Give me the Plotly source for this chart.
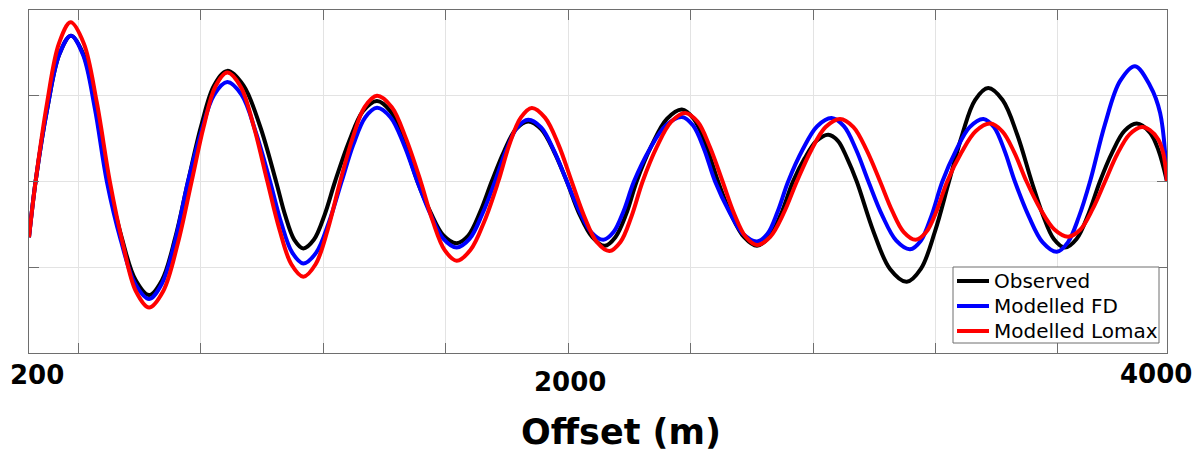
import plotly.graph_objects as go

# Offset positions (m) and normalised trace amplitudes, one row per half-cycle
observed_offset = [
    200, 222,
    261, 301, 340, 382, 423, 465,
    510, 556, 601, 644, 688, 731,
    775, 818, 862, 916, 971, 1025,
    1055, 1086, 1116, 1151, 1187, 1222,
    1269, 1315, 1362, 1407, 1452, 1497,
    1541, 1584, 1628, 1667, 1706, 1745,
    1786, 1826, 1867, 1910, 1953, 1996,
    2038, 2081, 2123, 2158, 2194, 2229,
    2279, 2330, 2380, 2420, 2461, 2501,
    2544, 2588, 2631, 2671, 2711, 2751,
    2790, 2830, 2869, 2901, 2932, 2964,
    3020, 3075, 3131, 3178, 3225, 3272,
    3316, 3359, 3403, 3451, 3500, 3548,
    3585, 3622, 3659, 3698, 3737, 3776,
    3817, 3858, 3899, 3943, 3971, 4000,
]
observed_amp = [
    -0.65, 0.0,
    0.85, 1.48, 1.70, 1.48, 0.85, 0.0,
    -0.66, -1.15, -1.325, -1.15, -0.66, 0.0,
    0.65, 1.12, 1.29, 1.12, 0.65, 0.0,
    -0.39, -0.68, -0.78, -0.68, -0.39, 0.0,
    0.47, 0.82, 0.94, 0.82, 0.47, 0.0,
    -0.36, -0.63, -0.72, -0.63, -0.36, 0.0,
    0.35, 0.61, 0.70, 0.61, 0.35, 0.0,
    -0.38, -0.65, -0.75, -0.65, -0.38, 0.0,
    0.42, 0.73, 0.84, 0.73, 0.42, 0.0,
    -0.38, -0.65, -0.75, -0.65, -0.38, 0.0,
    0.27, 0.475, 0.546, 0.475, 0.27, 0.0,
    -0.585, -1.02, -1.17, -1.02, -0.585, 0.0,
    0.545, 0.95, 1.09, 0.95, 0.545, 0.0,
    -0.385, -0.67, -0.77, -0.67, -0.385, 0.0,
    0.34, 0.59, 0.675, 0.57, 0.37, 0.0,
]

fd_offset = [
    200, 222,
    261, 301, 340, 380, 420, 460,
    507, 554, 601, 644, 688, 731,
    775, 818, 862, 910, 957, 1005,
    1042, 1079, 1116, 1159, 1201, 1244,
    1283, 1323, 1362, 1407, 1452, 1497,
    1541, 1584, 1628, 1671, 1713, 1756,
    1793, 1830, 1867, 1910, 1953, 1996,
    2037, 2077, 2118, 2152, 2186, 2220,
    2273, 2327, 2380, 2417, 2454, 2491,
    2538, 2584, 2631, 2666, 2700, 2735,
    2783, 2832, 2880, 2921, 2962, 3003,
    3049, 3096, 3142, 3178, 3214, 3250,
    3296, 3341, 3387, 3422, 3457, 3492,
    3539, 3585, 3632, 3669, 3706, 3743,
    3793, 3843, 3893, 3943, 3977, 4000,
]
fd_amp = [
    -0.65, 0.0,
    0.85, 1.48, 1.70, 1.48, 0.85, 0.0,
    -0.69, -1.19, -1.37, -1.19, -0.69, 0.0,
    0.58, 1.01, 1.16, 1.01, 0.58, 0.0,
    -0.48, -0.83, -0.955, -0.83, -0.48, 0.0,
    0.43, 0.75, 0.86, 0.75, 0.43, 0.0,
    -0.385, -0.67, -0.77, -0.67, -0.385, 0.0,
    0.36, 0.63, 0.72, 0.63, 0.36, 0.0,
    -0.34, -0.59, -0.68, -0.59, -0.34, 0.0,
    0.38, 0.655, 0.753, 0.655, 0.38, 0.0,
    -0.35, -0.61, -0.70, -0.61, -0.35, 0.0,
    0.37, 0.645, 0.74, 0.645, 0.37, 0.0,
    -0.395, -0.69, -0.79, -0.69, -0.395, 0.0,
    0.365, 0.635, 0.73, 0.635, 0.365, 0.0,
    -0.41, -0.71, -0.82, -0.71, -0.41, 0.0,
    0.67, 1.17, 1.345, 1.12, 0.80, 0.0,
]

lomax_offset = [
    200, 222,
    261, 300, 339, 383, 426, 470,
    514, 557, 601, 648, 696, 743,
    783, 822, 862, 907, 951, 996,
    1036, 1076, 1116, 1157, 1198, 1239,
    1280, 1321, 1362, 1411, 1459, 1508,
    1548, 1588, 1628, 1674, 1721, 1767,
    1804, 1842, 1879, 1923, 1968, 2012,
    2054, 2096, 2138, 2175, 2212, 2249,
    2296, 2344, 2391, 2433, 2474, 2516,
    2554, 2593, 2631, 2675, 2720, 2764,
    2812, 2860, 2908, 2953, 2997, 3042,
    3082, 3121, 3161, 3196, 3231, 3266,
    3314, 3361, 3409, 3450, 3490, 3531,
    3577, 3624, 3670, 3711, 3752, 3793,
    3834, 3875, 3916, 3943, 3971, 3988, 4000,
]
lomax_amp = [
    -0.65, 0.0,
    0.93, 1.61, 1.856, 1.61, 0.93, 0.0,
    -0.735, -1.28, -1.47, -1.28, -0.735, 0.0,
    0.635, 1.105, 1.27, 1.105, 0.635, 0.0,
    -0.555, -0.965, -1.11, -0.965, -0.555, 0.0,
    0.50, 0.87, 1.0, 0.87, 0.50, 0.0,
    -0.46, -0.80, -0.924, -0.80, -0.46, 0.0,
    0.43, 0.745, 0.858, 0.745, 0.43, 0.0,
    -0.405, -0.705, -0.81, -0.705, -0.405, 0.0,
    0.40, 0.695, 0.80, 0.695, 0.40, 0.0,
    -0.37, -0.645, -0.74, -0.645, -0.37, 0.0,
    0.365, 0.635, 0.73, 0.635, 0.365, 0.0,
    -0.34, -0.59, -0.68, -0.59, -0.34, 0.0,
    0.34, 0.585, 0.675, 0.585, 0.34, 0.0,
    -0.32, -0.56, -0.643, -0.56, -0.32, 0.0,
    0.32, 0.55, 0.636, 0.60, 0.49, 0.32, 0.0,
]

series_names = ["Observed", "Modelled FD", "Modelled Lomax"]
series_colors = ["#000000", "#0000ff", "#ff0000"]

# Grid lines along the offset axis and the labelled offsets below it
grid_offsets = [364, 773, 1182, 1591, 2000, 2409, 2818, 3227, 3636]
label_offsets = [200, 2000, 4000]
label_texts = ["200", "2000", "4000"]
label_shift_x = [8, 2, -11]
label_shift_y = [-22, -29, -21]

W, H = 1201, 452
M_L, M_R, M_T, M_B = 29, 34, 10, 99
PLOT_W = W - M_L - M_R
PLOT_H = H - M_T - M_B
LINE_W = 4


def px_to_paper(px, py):
    return (px - M_L) / PLOT_W, (H - M_B - py) / PLOT_H


fig = go.Figure()
for name, color, xs, ys in zip(series_names, series_colors,
                               [observed_offset, fd_offset, lomax_offset],
                               [observed_amp, fd_amp, lomax_amp]):
    fig.add_trace(go.Scatter(
        x=xs, y=ys, name=name, mode="lines", showlegend=False,
        line=dict(color=color, width=LINE_W, shape="spline", smoothing=1.0),
    ))

axis_common = dict(
    showline=True, linecolor="#6e6e6e", linewidth=1, mirror="ticks",
    ticks="inside", ticklen=10, tickcolor="#6e6e6e", tickwidth=1,
    showgrid=True, gridcolor="#e3e3e3", gridwidth=1,
    zeroline=False, showticklabels=False,
)

fig.update_xaxes(range=[200, 4000], tickvals=grid_offsets, **axis_common)
fig.update_yaxes(range=[-2, 2], tickvals=[-1, 0, 1], **axis_common)

annotations = []
for val, txt, dx, dy in zip(label_offsets, label_texts, label_shift_x, label_shift_y):
    annotations.append(dict(
        x=val, xref="x", y=0, yref="paper", text=txt, showarrow=False,
        xanchor="center", yanchor="middle", xshift=dx, yshift=dy,
        font=dict(family="DejaVu Sans", size=26, color="#000000", weight="bold"),
    ))
annotations.append(dict(
    x=0.5, xref="paper", y=0, yref="paper", text="Offset (m)", showarrow=False,
    xanchor="center", yanchor="middle", xshift=23, yshift=-79,
    font=dict(family="DejaVu Sans", size=35, color="#000000", weight="bold"),
))

# Legend box in the lower-right corner of the axes
shapes = []
bx0, by0 = px_to_paper(953, 343)
bx1, by1 = px_to_paper(1159, 267)
shapes.append(dict(type="rect", xref="paper", yref="paper", x0=bx0, y0=by0, x1=bx1, y1=by1,
                   fillcolor="white", line=dict(color="#6e6e6e", width=1), layer="above"))
row_centres = [281, 306, 331]
for name, color, ry in zip(series_names, series_colors, row_centres):
    lx0, ly = px_to_paper(957, ry)
    lx1, _ = px_to_paper(989, ry)
    shapes.append(dict(type="line", xref="paper", yref="paper", x0=lx0, y0=ly, x1=lx1, y1=ly,
                       line=dict(color=color, width=LINE_W), layer="above"))
    tx, ty = px_to_paper(992, ry)
    annotations.append(dict(
        x=tx, xref="paper", y=ty, yref="paper", text=name, showarrow=False,
        xanchor="left", yanchor="middle",
        font=dict(family="DejaVu Sans", size=20, color="#000000"),
    ))

fig.update_layout(
    width=W, height=H,
    margin=dict(l=M_L, r=M_R, t=M_T, b=M_B),
    paper_bgcolor="white", plot_bgcolor="white",
    showlegend=False,
    shapes=shapes,
    annotations=annotations,
)

fig.write_html("out.html")
